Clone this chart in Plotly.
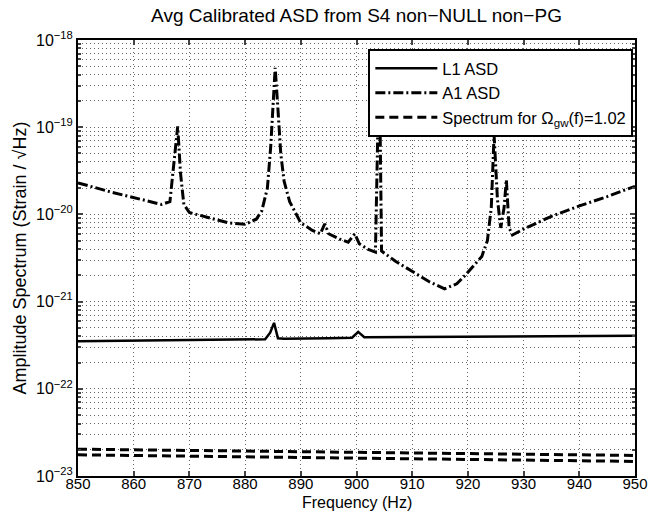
import plotly.graph_objects as go

# ---------------- data ----------------
freq_l1 = [850, 860, 870, 880, 883.6, 884.5, 885.2, 885.9, 887, 895, 899.2, 900.3, 901.4, 910, 920, 930, 940, 950]
asd_l1 = [3.5e-22, 3.55e-22, 3.6e-22, 3.65e-22, 3.7e-22, 4.4e-22, 5.7e-22, 3.8e-22, 3.75e-22, 3.8e-22,
          3.85e-22, 4.5e-22, 3.9e-22, 3.92e-22, 3.95e-22, 3.98e-22, 4.0e-22, 4.05e-22]

freq_a1 = [850, 856, 862, 865, 866.5, 867.3, 867.9, 868.4, 869, 870, 874, 877, 880, 882, 883, 884,
           884.6, 885.4, 885.9, 886.4, 887, 888, 890, 892, 893.5, 894.3, 895, 897, 898.5, 899.7,
           900.5, 902, 903.4, 903.9, 904.2, 904.5, 907, 910, 913, 915.8, 918, 919.5, 921, 922.5,
           923.5, 924.2, 924.7, 925.3, 925.9, 926.5, 926.9, 927.4, 928, 930, 935, 940, 945, 950]
asd_a1 = [2.3e-20, 1.8e-20, 1.45e-20, 1.3e-20, 1.4e-20, 4.2e-20, 1.02e-19, 3e-20, 1.3e-20, 1.05e-20,
          9e-21, 8e-21, 7.7e-21, 8.8e-21, 1.1e-20, 2e-20,
          6e-20, 4.8e-19, 1.6e-19, 5e-20, 2.4e-20, 1.4e-20, 8e-21, 6.6e-21, 6e-21, 7.8e-21, 6e-21,
          5.2e-21, 4.8e-21, 6e-21,
          4.6e-21, 4e-21, 3.7e-21, 1.6e-19, 1.6e-19, 3.8e-21, 2.9e-21, 2.2e-21, 1.7e-21, 1.4e-21, 1.6e-21,
          2.0e-21, 2.6e-21, 3.3e-21,
          5e-21, 1.2e-20, 8.2e-20, 1.5e-20, 7e-21, 1.2e-20, 2.5e-20, 7e-21, 5.8e-21, 6.8e-21, 9.5e-21,
          1.25e-20, 1.6e-20, 2.1e-20]

freq_spec = [850, 875, 900, 925, 950]
spec_1 = [2.03e-23, 1.95e-23, 1.87e-23, 1.79e-23, 1.72e-23]
spec_2 = [1.75e-23, 1.67e-23, 1.6e-23, 1.54e-23, 1.47e-23]

x_ticks = [850, 860, 870, 880, 890, 900, 910, 920, 930, 940, 950]
y_exps = [-23, -22, -21, -20, -19, -18]
y_ticktext = ["10<sup>\u2212%d</sup>" % (-e) for e in y_exps]

# ---------------- figure ----------------
FONT = "Liberation Sans, Arial, Helvetica, sans-serif"
W, H = 660, 512
M_L, M_R, M_T, M_B = 78, 18, 40, 36
PLOT_H = H - M_T - M_B

fig = go.Figure()

fig.add_trace(go.Scatter(x=freq_l1, y=asd_l1, mode="lines", name="L1 ASD",
                         line=dict(color="black", width=2.5)))
fig.add_trace(go.Scatter(x=freq_a1, y=asd_a1, mode="lines", name="A1 ASD",
                         line=dict(color="black", width=3, dash="10px,3px,2px,3px")))
fig.add_trace(go.Scatter(x=freq_spec, y=spec_1, mode="lines",
                         name="Spectrum for \u03a9<sub>gw</sub>(f)=1.02",
                         line=dict(color="black", width=3, dash="9px,5px")))
fig.add_trace(go.Scatter(x=freq_spec, y=spec_2, mode="lines", showlegend=False,
                         line=dict(color="black", width=3, dash="9px,5px")))

minor_vals = [m * 10.0 ** e for e in range(-23, -18) for m in range(2, 10)]
grid_dash = "1px,3px"
grid_col = "#666666"

fig.update_layout(
    width=W, height=H,
    margin=dict(l=M_L, r=M_R, t=M_T, b=M_B),
    paper_bgcolor="white", plot_bgcolor="white",
    font=dict(family=FONT, color="black", size=16),
    title=dict(text="Avg Calibrated ASD from S4 non\u2212NULL non\u2212PG",
               x=0.5, xref="paper", xanchor="center",
               y=1 - 15 / H, yref="container", yanchor="middle",
               font=dict(size=19, family=FONT)),
    showlegend=True,
    legend=dict(x=0.997, xanchor="right", y=1 - 9 / PLOT_H, yanchor="top",
                bgcolor="white", bordercolor="black", borderwidth=2,
                font=dict(size=16.5, family=FONT), tracegroupgap=0, itemwidth=62),
    annotations=[dict(text="Frequency (Hz)", xref="paper", x=0.5, xanchor="center",
                      yref="paper", y=-(503 - (H - M_B)) / PLOT_H, yanchor="middle",
                      showarrow=False, borderpad=0, font=dict(size=16, family=FONT))],
)

fig.update_xaxes(
    range=[850, 950], tickvals=x_ticks, ticks="inside", ticklen=5, tickwidth=1.5,
    showline=True, linecolor="black", linewidth=2, mirror="allticks",
    showgrid=True, gridcolor=grid_col, griddash=grid_dash, gridwidth=1,
    tickfont=dict(size=15), zeroline=False, ticklabelstandoff=-7,
)
fig.update_yaxes(
    type="log", range=[-23, -18],
    tickvals=[10.0 ** e for e in y_exps], ticktext=y_ticktext,
    ticks="inside", ticklen=5, tickwidth=1.5,
    showline=True, linecolor="black", linewidth=2, mirror="allticks",
    showgrid=True, gridcolor=grid_col, griddash=grid_dash, gridwidth=1,
    minor=dict(tickvals=minor_vals, ticks="inside", ticklen=3, showgrid=True,
               gridcolor=grid_col, griddash=grid_dash, gridwidth=1),
    tickfont=dict(size=16), zeroline=False,
    title=dict(text="Amplitude Spectrum (Strain / \u221aHz)", font=dict(size=18), standoff=5),
)

# remove the browser's default 8px page margin so the figure sits at (0, 0); hide the modebar
fig.write_html("out.html", config={"displayModeBar": False},
               post_script="document.body.style.margin='0';document.body.style.overflow='hidden';")
